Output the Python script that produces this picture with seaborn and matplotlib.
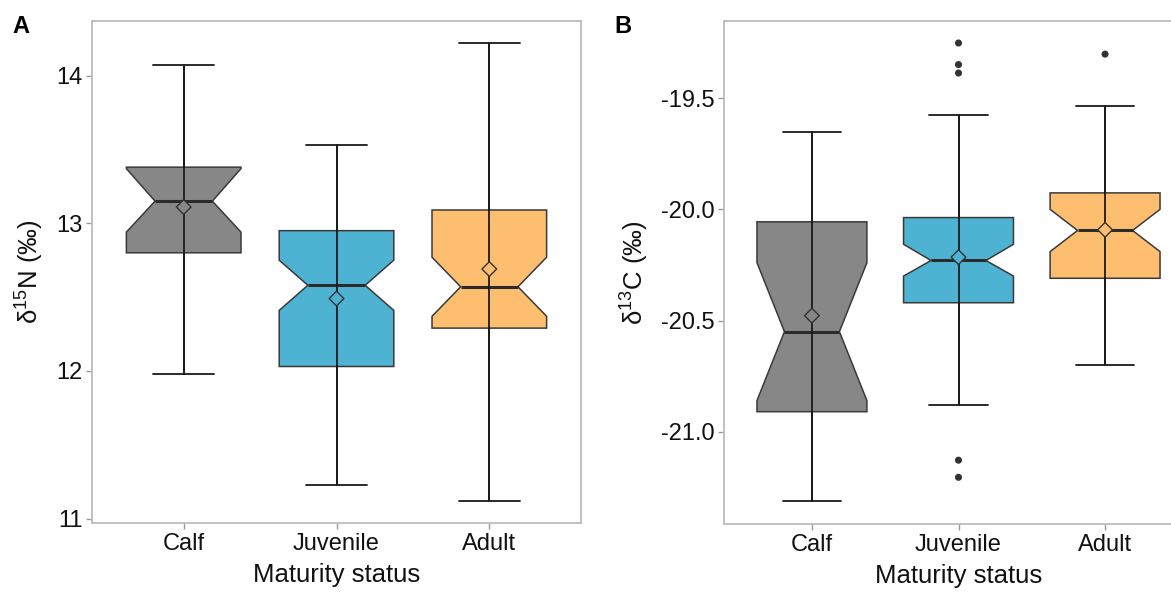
import numpy as np
import matplotlib
matplotlib.use("Agg")
import matplotlib.pyplot as plt
import seaborn as sns

# ---------------- data ----------------
categories = ["Calf", "Juvenile", "Adult"]

# Panel A: delta 15N
n15_whislo = [11.98, 11.23, 11.12]
n15_q1 = [12.80, 12.03, 12.29]
n15_cilo = [12.94, 12.41, 12.37]
n15_med = [13.15, 12.58, 12.57]
n15_cihi = [13.37, 12.75, 12.77]
n15_q3 = [13.38, 12.95, 13.09]
n15_whishi = [14.07, 13.53, 14.22]
n15_mean = [13.11, 12.49, 12.69]
n15_ticks = [11, 12, 13, 14]

# Panel B: delta 13C
c13_whislo = [-21.31, -20.88, -20.70]
c13_q1 = [-20.91, -20.42, -20.31]
c13_cilo = [-20.86, -20.30, -20.19]
c13_med = [-20.55, -20.23, -20.095]
c13_cihi = [-20.24, -20.157, -20.00]
c13_q3 = [-20.056, -20.037, -19.926]
c13_whishi = [-19.652, -19.575, -19.534]
c13_mean = [-20.478, -20.215, -20.092]
c13_out_group = ["Juvenile", "Juvenile", "Juvenile", "Juvenile", "Juvenile", "Adult"]
c13_out_value = [-19.252, -19.349, -19.387, -21.128, -21.205, -19.302]
c13_ticks = [-21.0, -20.5, -20.0, -19.5]

colors = ["#878787", "#4EB3D3", "#FDBF6F"]

# ---------------- style ----------------
sns.set_theme(style="white")
plt.rcParams["font.family"] = ["Liberation Sans", "DejaVu Sans"]
plt.rcParams["mathtext.fontset"] = "custom"
plt.rcParams["mathtext.rm"] = "Liberation Sans"
plt.rcParams["mathtext.it"] = "Liberation Sans:italic"
plt.rcParams["axes.unicode_minus"] = False

fig = plt.figure(figsize=(11.71, 5.97), dpi=100)
W, H = 1171, 597
axA = fig.add_axes([92 / W, (H - 523) / H, 489 / W, 502 / H])
axB = fig.add_axes([724 / W, (H - 524) / H, 469 / W, 503 / H])


def draw_panel(ax, whislo, q1, cilo, med, cihi, q3, whishi, mean, ticks, fmt, ylim, ylabel,
               out_group=None, out_value=None):
    pos = np.arange(len(categories))
    stats = []
    for i in range(len(categories)):
        stats.append(dict(whislo=whislo[i], q1=q1[i], med=med[i], q3=q3[i], whishi=whishi[i],
                          cilo=cilo[i], cihi=cihi[i], fliers=[], label=categories[i]))
    bp = ax.bxp(stats, positions=pos, widths=0.75, shownotches=True, patch_artist=True,
                showfliers=False, capwidths=0.4,
                boxprops=dict(edgecolor="#3a3a3a", linewidth=1.1),
                medianprops=dict(color="#2b2b2b", linewidth=2.2),
                whiskerprops=dict(color="#1a1a1a", linewidth=1.3),
                capprops=dict(color="#1a1a1a", linewidth=1.3),
                manage_ticks=False)
    for patch, c in zip(bp["boxes"], colors):
        patch.set_facecolor(c)
    # error-bar line running through the box
    ax.vlines(pos, whislo, whishi, color="#1a1a1a", linewidth=1.3, zorder=3)
    # means
    sns.scatterplot(x=pos, y=mean, hue=categories, palette=colors, marker="D", s=56,
                    edgecolor="#333333", linewidth=1.0, legend=False, ax=ax, zorder=5)
    # outliers
    if out_group is not None:
        ox = [categories.index(g) for g in out_group]
        sns.scatterplot(x=ox, y=out_value, color="#333333", s=26, edgecolor="none",
                        legend=False, ax=ax, zorder=5)
    ax.set_xlim(-0.6, len(categories) - 0.4)
    ax.set_ylim(*ylim)
    ax.set_xticks(pos)
    ax.set_xticklabels(categories)
    ax.set_yticks(ticks)
    ax.set_yticklabels([fmt.format(t) for t in ticks])
    ax.tick_params(axis="both", which="both", bottom=True, left=True, direction="out",
                   length=4, width=1.0, color="#9a9a9a", labelsize=17, pad=3,
                   labelcolor="#111111")
    for sp in ax.spines.values():
        sp.set_color("#BDBDBD")
        sp.set_linewidth(1.3)
    ax.set_xlabel("Maturity status", fontsize=18.5, color="#111111", labelpad=6)
    ax.set_ylabel(ylabel, fontsize=18.5, color="#111111", labelpad=7)
    ax.grid(False)


draw_panel(axA, n15_whislo, n15_q1, n15_cilo, n15_med, n15_cihi, n15_q3, n15_whishi, n15_mean,
           n15_ticks, "{:.0f}", (10.97, 14.37), r"$\mathregular{\delta^{15}}$N (‰)")
draw_panel(axB, c13_whislo, c13_q1, c13_cilo, c13_med, c13_cihi, c13_q3, c13_whishi, c13_mean,
           c13_ticks, "{:.1f}", (-21.415, -19.153), r"$\mathregular{\delta^{13}}$C (‰)",
           c13_out_group, c13_out_value)

fig.text(12 / W, 1 - 33 / H, "A", fontsize=17, fontweight="bold", va="baseline", ha="left",
         color="black")
fig.text(614 / W, 1 - 33 / H, "B", fontsize=17, fontweight="bold", va="baseline", ha="left",
         color="black")

fig.savefig("out.png", dpi=100)
